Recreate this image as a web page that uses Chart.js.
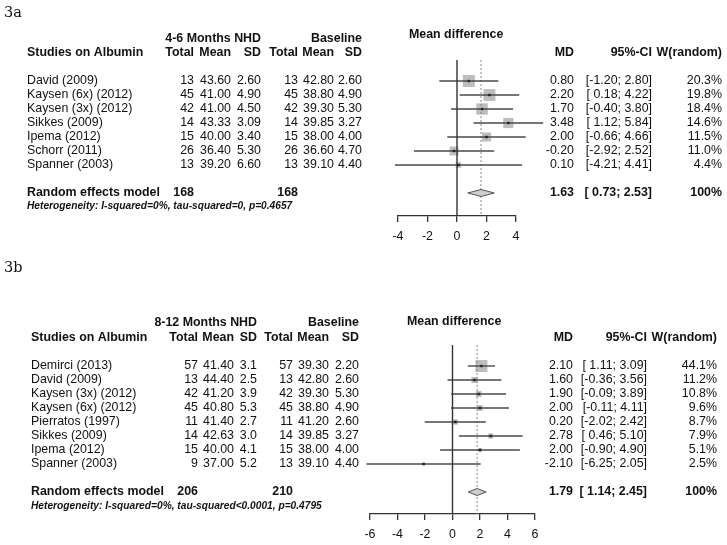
<!DOCTYPE html>
<html>
<head>
<meta charset="utf-8">
<script src="https://cdn.jsdelivr.net/npm/chart.js@4.4.0/dist/chart.umd.min.js"></script>
<style>
  html, body { margin: 0; padding: 0; background: #fff; }
  #wrap { position: relative; width: 727px; height: 545px; }
  canvas { position: absolute; left: 0; }
  #chartA { top: 0; }
  #chartB { top: 260px; }
</style>
</head>
<body>
<div id="wrap">
  <canvas id="chartA" width="727" height="260"></canvas>
  <canvas id="chartB" width="727" height="285"></canvas>
</div>
<script>
// --- 3a : 4-6 months NHD vs baseline ---
const studiesA = ['David (2009)', 'Kaysen (6x) (2012)', 'Kaysen (3x) (2012)', 'Sikkes (2009)', 'Ipema (2012)', 'Schorr (2011)', 'Spanner (2003)'];
const nhdTotalA = [13, 45, 42, 14, 15, 26, 13];
const nhdMeanA = [43.60, 41.00, 41.00, 43.33, 40.00, 36.40, 39.20];
const nhdSdA = [2.60, 4.90, 4.50, 3.09, 3.40, 5.30, 6.60];
const baseTotalA = [13, 45, 42, 14, 15, 26, 13];
const baseMeanA = [42.80, 38.80, 39.30, 39.85, 38.00, 36.60, 39.10];
const baseSdA = [2.60, 4.90, 5.30, 3.27, 4.00, 4.70, 4.40];
const mdA = [0.80, 2.20, 1.70, 3.48, 2.00, -0.20, 0.10];
const ciLowA = [-1.20, 0.18, -0.40, 1.12, -0.66, -2.92, -4.21];
const ciHighA = [2.80, 4.22, 3.80, 5.84, 4.66, 2.52, 4.41];
const weightA = [20.3, 19.8, 18.4, 14.6, 11.5, 11.0, 4.4];
const pooledA = [1.63, 0.73, 2.53];   // MD, low, high
const totalsA = [168, 168];
const xTicksA = [-4, -2, 0, 2, 4];
const heteroA = 'Heterogeneity: I-squared=0%, tau-squared=0, p=0.4657';

// --- 3b : 8-12 months NHD vs baseline ---
const studiesB = ['Demirci (2013)', 'David (2009)', 'Kaysen (3x) (2012)', 'Kaysen (6x) (2012)', 'Pierratos (1997)', 'Sikkes (2009)', 'Ipema (2012)', 'Spanner (2003)'];
const nhdTotalB = [57, 13, 42, 45, 11, 14, 15, 9];
const nhdMeanB = [41.40, 44.40, 41.20, 40.80, 41.40, 42.63, 40.00, 37.00];
const nhdSdB = [3.1, 2.5, 3.9, 5.3, 2.7, 3.0, 4.1, 5.2];
const baseTotalB = [57, 13, 42, 45, 11, 14, 15, 13];
const baseMeanB = [39.30, 42.80, 39.30, 38.80, 41.20, 39.85, 38.00, 39.10];
const baseSdB = [2.20, 2.60, 5.30, 4.90, 2.60, 3.27, 4.00, 4.40];
const mdB = [2.10, 1.60, 1.90, 2.00, 0.20, 2.78, 2.00, -2.10];
const ciLowB = [1.11, -0.36, -0.09, -0.11, -2.02, 0.46, -0.90, -6.25];
const ciHighB = [3.09, 3.56, 3.89, 4.11, 2.42, 5.10, 4.90, 2.05];
const weightB = [44.1, 11.2, 10.8, 9.6, 8.7, 7.9, 5.1, 2.5];
const pooledB = [1.79, 1.14, 2.45];
const totalsB = [206, 210];
const xTicksB = [-6, -4, -2, 0, 2, 4, 6];
const heteroB = 'Heterogeneity: I-squared=0%, tau-squared<0.0001, p=0.4795';

const FONT = "'Liberation Sans', Arial, Helvetica, sans-serif";
const SIZE = 12.4;

function fmtCi(lo, hi) {
  const a = lo < 0 ? lo.toFixed(2) : ' ' + lo.toFixed(2);
  return '[' + a + '; ' + hi.toFixed(2) + ']';
}

// draws the table text, rows placed through the y scale
function tablePlugin(p) {
  return {
    id: 'table',
    afterDraw(chart) {
      const ctx = chart.ctx, c = p.cols;
      const Y = v => chart.scales.y.getPixelForValue(v);
      const reg = SIZE + 'px ' + FONT, bold = 'bold ' + reg;
      const put = (s, x, y, align, font) => { ctx.font = font; ctx.textAlign = align; ctx.fillText(s, x, y); };
      ctx.save();
      ctx.fillStyle = '#111';
      ctx.textBaseline = 'middle';

      put(p.label, 4, p.labelY, 'left', '14.5px "DejaVu Serif", serif');
      put(p.group, c.nS, Y(p.groupRow), 'right', bold);
      put('Baseline', c.bS, Y(p.groupRow), 'right', bold);
      put('Mean difference', c.mdHead, Y(p.mdHeadRow), 'left', bold);

      const h = Y(-2);
      put('Studies on Albumin', c.name, h, 'left', bold);
      [['Total', c.nT], ['Mean', c.nM], ['SD', c.nS], ['Total', c.bT], ['Mean', c.bM], ['SD', c.bS],
       ['MD', c.md], ['95%-CI', c.ci], ['W(random)', c.w]].forEach(([s, x]) => put(s, x, h, 'right', bold));

      p.studies.forEach((s, i) => {
        const y = Y(i);
        put(s, c.name, y, 'left', reg);
        put(String(p.nhdTotal[i]), c.nT, y, 'right', reg);
        put(p.nhdMean[i].toFixed(2), c.nM, y, 'right', reg);
        put(p.nhdSd[i].toFixed(p.sdDigits), c.nS, y, 'right', reg);
        put(String(p.baseTotal[i]), c.bT, y, 'right', reg);
        put(p.baseMean[i].toFixed(2), c.bM, y, 'right', reg);
        put(p.baseSd[i].toFixed(2), c.bS, y, 'right', reg);
        put(p.md[i].toFixed(2), c.md, y, 'right', reg);
        put(fmtCi(p.lo[i], p.hi[i]), c.ci, y, 'right', reg);
        put(p.weight[i].toFixed(1) + '%', c.w, y, 'right', reg);
      });

      const r = Y(p.poolRow);
      put('Random effects model', c.name, r, 'left', bold);
      put(String(p.totals[0]), c.nT, r, 'right', bold);
      put(String(p.totals[1]), c.bT, r, 'right', bold);
      put(p.pooled[0].toFixed(2), c.md, r, 'right', bold);
      put(fmtCi(p.pooled[1], p.pooled[2]), c.ci, r, 'right', bold);
      put('100%', c.w, r, 'right', bold);
      put(p.hetero, c.name, Y(p.heteroRow), 'left', 'italic bold 10.2px ' + FONT);
      ctx.restore();
    }
  };
}

function makeForest(id, p) {
  const wMax = Math.max(...p.weight);
  const yMin = -1.5;
  const datasets = [];

  // grey squares, area ~ weight
  datasets.push({
    data: p.studies.map((s, i) => ({ x: p.md[i], y: i })),
    pointStyle: 'rect',
    pointRadius: p.weight.map(w => 12 * Math.sqrt(w / wMax) / Math.SQRT2),
    backgroundColor: '#bdbdbd', borderWidth: 0, order: 10, clip: false
  });
  // confidence intervals
  p.studies.forEach((s, i) => datasets.push({
    data: [{ x: p.lo[i], y: i }, { x: p.hi[i], y: i }],
    showLine: true, borderColor: '#4a4a4a', borderWidth: 1.4, pointRadius: 0, order: 4, clip: false
  }));
  // no-effect line
  datasets.push({
    data: [{ x: 0, y: yMin }, { x: 0, y: p.yMax }],
    showLine: true, borderColor: '#333', borderWidth: 1.4, pointRadius: 0, order: 3
  });
  // pooled estimate, dotted
  datasets.push({
    data: [{ x: p.pooled[0], y: yMin }, { x: p.pooled[0], y: p.yMax }],
    showLine: true, borderColor: '#888', borderWidth: 1, borderDash: [2, 2], pointRadius: 0, order: 5
  });
  // centre dots
  datasets.push({
    data: p.studies.map((s, i) => ({ x: p.md[i], y: i })),
    pointStyle: 'rect', pointRadius: 1.7, backgroundColor: '#222', borderWidth: 0, order: 1, clip: false
  });
  // diamond
  const k = p.poolRow, dh = 0.25;
  datasets.push({
    data: [{ x: p.pooled[1], y: k }, { x: p.pooled[0], y: k - dh }, { x: p.pooled[2], y: k },
           { x: p.pooled[0], y: k + dh }, { x: p.pooled[1], y: k }],
    showLine: true, fill: 'shape', backgroundColor: '#cdcdcd', borderColor: '#555', borderWidth: 1,
    pointRadius: 0, tension: 0, order: 2
  });

  return new Chart(document.getElementById(id), {
    type: 'scatter',
    data: { datasets },
    options: {
      responsive: false, animation: false,
      layout: { padding: p.pad },
      plugins: { legend: { display: false }, tooltip: { enabled: false } },
      scales: {
        x: {
          type: 'linear', min: p.xTicks[0], max: p.xTicks[p.xTicks.length - 1],
          afterBuildTicks: s => { s.ticks = p.xTicks.map(v => ({ value: v })); },
          afterFit: s => { s.height = 30; },
          grid: { drawOnChartArea: false, color: '#333', lineWidth: 1.3, tickLength: 6 },
          border: { color: '#333', width: 1.3 },
          ticks: { color: '#111', padding: 7, autoSkip: false, maxRotation: 0,
                   font: { family: FONT, size: SIZE }, callback: v => String(v) }
        },
        y: { type: 'linear', display: false, reverse: true, min: yMin, max: p.yMax }
      }
    },
    plugins: [tablePlugin(p)]
  });
}

makeForest('chartA', {
  label: '3a', labelY: 13, group: '4-6 Months NHD', sdDigits: 2,
  studies: studiesA, nhdTotal: nhdTotalA, nhdMean: nhdMeanA, nhdSd: nhdSdA,
  baseTotal: baseTotalA, baseMean: baseMeanA, baseSd: baseSdA,
  md: mdA, lo: ciLowA, hi: ciHighA, weight: weightA, pooled: pooledA, totals: totalsA,
  xTicks: xTicksA, hetero: heteroA,
  groupRow: -3, mdHeadRow: -3.3, poolRow: 8, heteroRow: 8.95,
  pad: { left: 398, right: 211, top: 60, bottom: 14 }, yMax: 9.643,
  cols: { name: 27, nT: 194, nM: 231, nS: 261, bT: 298, bM: 334, bS: 362, md: 574, ci: 652, w: 722, mdHead: 409 }
});

makeForest('chartB', {
  label: '3b', labelY: 8, group: '8-12 Months NHD', sdDigits: 1,
  studies: studiesB, nhdTotal: nhdTotalB, nhdMean: nhdMeanB, nhdSd: nhdSdB,
  baseTotal: baseTotalB, baseMean: baseMeanB, baseSd: baseSdB,
  md: mdB, lo: ciLowB, hi: ciHighB, weight: weightB, pooled: pooledB, totals: totalsB,
  xTicks: xTicksB, hetero: heteroB,
  groupRow: -3.07, mdHeadRow: -3.14, poolRow: 9, heteroRow: 10,
  pad: { left: 370, right: 192, top: 85, bottom: 1 }, yMax: 10.571,
  cols: { name: 31, nT: 198, nM: 234, nS: 257, bT: 293, bM: 329, bS: 359, md: 573, ci: 647, w: 717, mdHead: 407 }
});
</script>
</body>
</html>
